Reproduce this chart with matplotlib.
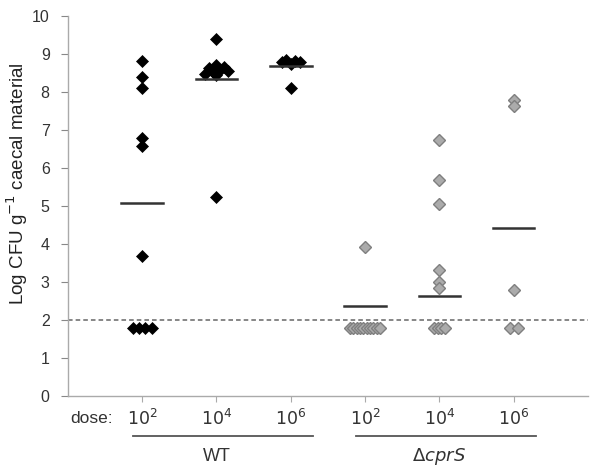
import numpy as np
import matplotlib
matplotlib.use('Agg')
from matplotlib import pyplot as plt
from matplotlib import transforms

plt.rcParams['font.family'] = ['Liberation Sans', 'DejaVu Sans']

# groups (WT then delta cprS), dose labels
dose_labels = ['$10^2$', '$10^4$', '$10^6$', '$10^2$', '$10^4$', '$10^6$']
strain_labels = ['WT', r'$\Delta\mathit{cprS}$']

wt_1e2 = [8.82, 8.38, 8.11, 6.78, 6.58, 3.69, 1.8, 1.8, 1.8, 1.8]
wt_1e4 = [9.39, 8.48, 8.62, 8.52, 8.70, 8.45, 8.58, 8.66, 8.55, 5.24]
wt_1e6 = [8.78, 8.85, 8.74, 8.82, 8.78, 8.11]
cprs_1e2 = [3.92, 1.8, 1.8, 1.8, 1.8, 1.8, 1.8, 1.8, 1.8, 1.8, 1.8]
cprs_1e4 = [6.74, 5.67, 5.05, 3.32, 3.01, 2.85, 1.8, 1.8, 1.8, 1.8]
cprs_1e6 = [7.79, 7.63, 2.78, 1.8, 1.8]

group_values = [wt_1e2, wt_1e4, wt_1e6, cprs_1e2, cprs_1e4, cprs_1e6]
group_means = [5.07, 8.33, 8.68, 2.38, 2.63, 4.43]
detection_limit = 2.0

# horizontal spread step for tied values in each group
spread_step = [0.085, 0.05, 0.06, 0.045, 0.05, 0.11]


def spread(values, step, tol=0.2):
    # give tied / nearly tied values side-by-side x offsets (kept in list order)
    vals = np.asarray(values)
    offs = np.zeros(len(vals))
    used = np.zeros(len(vals), bool)
    for i in range(len(vals)):
        if used[i]:
            continue
        g = [j for j in range(len(vals)) if not used[j] and abs(vals[j] - vals[i]) < tol]
        for j in g:
            used[j] = True
        n = len(g)
        for k, idx in enumerate(g):
            offs[idx] = (k - (n - 1) / 2.0) * step
    return offs


fig = plt.figure(figsize=(6, 4.66), dpi=100)
ax = fig.add_axes([0.113, 0.150, 0.867, 0.816])

for i, vals in enumerate(group_values):
    xpos = i + 1
    tol = 0.2 if i in (1, 2) else 0.05
    offs = spread(vals, spread_step[i], tol)
    if i < 3:
        ax.plot(xpos + offs, vals, 'D', ms=6.5, mfc='black', mec='black', mew=0.5, zorder=3)
    else:
        ax.plot(xpos + offs, vals, 'D', ms=6.5, mfc='#ababab', mec='#7f7f7f', mew=1.0, zorder=3)
    ax.plot([xpos - 0.28, xpos + 0.28], [group_means[i]] * 2, color='#333333', lw=1.8, zorder=4)

ax.axhline(detection_limit, color='#666666', lw=1.1, ls=(0, (3, 2)), zorder=1)

ax.set_xlim(0, 7)
ax.set_ylim(0, 10)
ax.set_yticks(np.arange(0, 11, 1))
ax.set_xticks(np.arange(1, 7))
ax.set_xticklabels([])
ax.tick_params(axis='y', labelsize=11.5, colors='#888888', labelcolor='#333333', length=5, pad=8)
ax.tick_params(axis='x', colors='#aaaaaa', length=4)

for s in ['top', 'right']:
    ax.spines[s].set_visible(False)
for s in ['left', 'bottom']:
    ax.spines[s].set_color('#aaaaaa')
    ax.spines[s].set_linewidth(1.0)

ax.set_ylabel('Log CFU g$^{-1}$ caecal material', fontsize=13.5, color='#222222')
ax.yaxis.set_label_coords(-0.072, 0.56)

trans = transforms.blended_transform_factory(ax.transData, ax.transAxes)
for i, lab in enumerate(dose_labels):
    ax.text(i + 1, -0.058, lab, transform=trans, ha='center', va='center',
            fontsize=12.5, color='#333333')
ax.text(0.03, -0.058, 'dose:', transform=trans, ha='left', va='center',
        fontsize=12.5, color='#333333')

for k, lab in enumerate(strain_labels):
    x0 = 3 * k + 0.88
    x1 = 3 * k + 3.3
    ax.plot([x0, x1], [-0.105, -0.105], transform=trans, color='#555555', lw=1.3, clip_on=False)
    ax.text(3 * k + 2, -0.158, lab, transform=trans, ha='center', va='center',
            fontsize=13, color='#333333')

fig.savefig('out.png', dpi=100)
